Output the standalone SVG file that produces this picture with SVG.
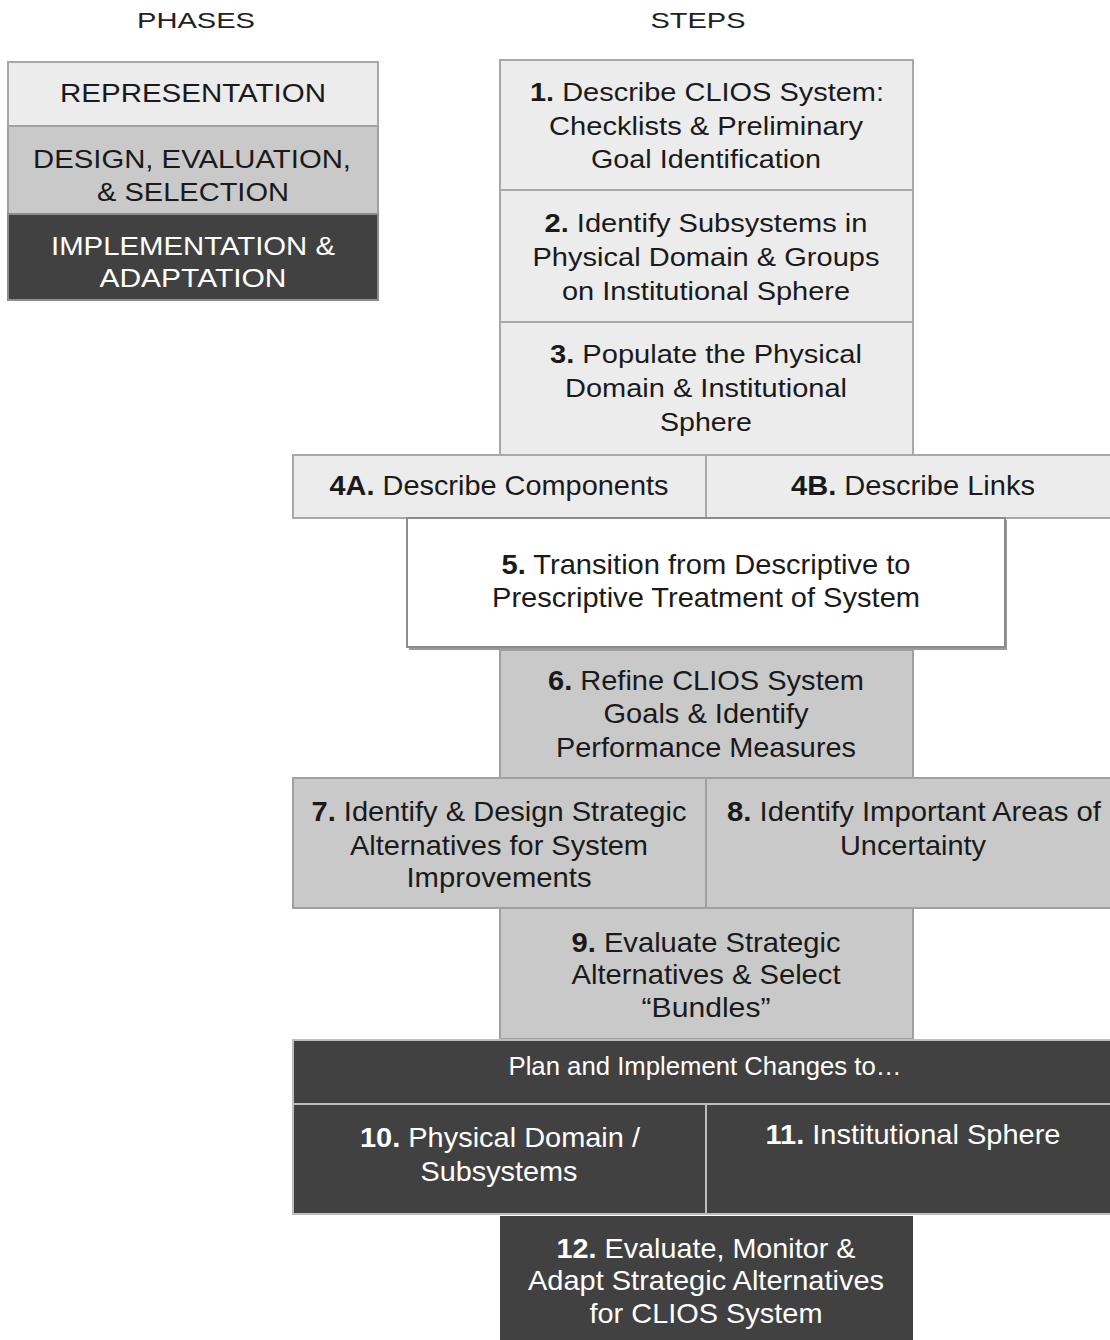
<svg xmlns="http://www.w3.org/2000/svg" width="1110" height="1340" viewBox="0 0 1110 1340">
  <style>
    text { font-family: "Liberation Sans", Arial, sans-serif; text-anchor: middle; }
    .hd { font-size: 22px; fill: #222; }
    .t { font-size: 25px; fill: #1a1a1a; }
    .tw { font-size: 25px; fill: #ffffff; }
    .c { font-size: 28px; }
    .n { font-weight: bold; }
    .light { fill: #ececec; stroke: #a8a8a8; stroke-width: 2; }
    .mid { fill: #c9c9c9; stroke: #a0a0a0; stroke-width: 2; }
    .dark { fill: #414141; stroke: #bdbdbd; stroke-width: 2; }
    .white { fill: #ffffff; stroke: #8c8c8c; stroke-width: 2; }
  </style>

  <!-- column headings -->
  <text class="hd" x="196" y="28" textLength="118" lengthAdjust="spacingAndGlyphs">PHASES</text>
  <text class="hd" x="698" y="28" textLength="95" lengthAdjust="spacingAndGlyphs">STEPS</text>

  <!-- phase legend -->
  <g id="phase-representation">
    <rect class="light" x="8" y="62" width="370" height="64"/>
    <text class="t" x="193" y="102" textLength="266" lengthAdjust="spacingAndGlyphs">REPRESENTATION</text>
  </g>
  <g id="phase-design">
    <rect class="mid" x="8" y="126" width="370" height="88"/>
    <text class="t" x="192" y="168" textLength="318" lengthAdjust="spacingAndGlyphs">DESIGN, EVALUATION,</text>
    <text class="t" x="193" y="201" textLength="192" lengthAdjust="spacingAndGlyphs">&amp; SELECTION</text>
  </g>
  <g id="phase-implementation">
    <rect class="dark" x="8" y="214" width="370" height="86" style="stroke:#8c8c8c"/>
    <text class="tw" x="193" y="255" textLength="284" lengthAdjust="spacingAndGlyphs">IMPLEMENTATION &amp;</text>
    <text class="tw" x="193" y="287" textLength="187" lengthAdjust="spacingAndGlyphs">ADAPTATION</text>
  </g>

  <!-- steps: representation -->
  <g id="step-1">
    <rect class="light" x="500" y="60" width="413" height="130"/>
    <text class="t" x="707" y="101" textLength="354" lengthAdjust="spacingAndGlyphs"><tspan class="n">1.</tspan> Describe CLIOS System:</text>
    <text class="t" x="706" y="135" textLength="314" lengthAdjust="spacingAndGlyphs">Checklists &amp; Preliminary</text>
    <text class="t" x="706" y="168" textLength="230" lengthAdjust="spacingAndGlyphs">Goal Identification</text>
  </g>
  <g id="step-2">
    <rect class="light" x="500" y="190" width="413" height="132"/>
    <text class="t" x="706" y="232" textLength="323" lengthAdjust="spacingAndGlyphs"><tspan class="n">2.</tspan> Identify Subsystems in</text>
    <text class="t" x="706" y="266" textLength="347" lengthAdjust="spacingAndGlyphs">Physical Domain &amp; Groups</text>
    <text class="t" x="706" y="300" textLength="288" lengthAdjust="spacingAndGlyphs">on Institutional Sphere</text>
  </g>
  <g id="step-3">
    <rect class="light" x="500" y="322" width="413" height="133"/>
    <text class="t" x="706" y="363" textLength="312" lengthAdjust="spacingAndGlyphs"><tspan class="n">3.</tspan> Populate the Physical</text>
    <text class="t" x="706" y="397" textLength="282" lengthAdjust="spacingAndGlyphs">Domain &amp; Institutional</text>
    <text class="t" x="706" y="431" textLength="92" lengthAdjust="spacingAndGlyphs">Sphere</text>
  </g>
  <g id="step-4a">
    <rect class="light" x="293" y="455" width="413" height="63"/>
    <text class="t c" x="499" y="495" textLength="339" lengthAdjust="spacingAndGlyphs"><tspan class="n">4A.</tspan> Describe Components</text>
  </g>
  <g id="step-4b">
    <rect class="light" x="706" y="455" width="410" height="63"/>
    <text class="t c" x="913" y="495" textLength="244" lengthAdjust="spacingAndGlyphs"><tspan class="n">4B.</tspan> Describe Links</text>
  </g>
  <g id="step-5">
    <rect x="409" y="520" width="598" height="130" fill="#9a9a9a"/>
    <rect class="white" x="407" y="518" width="598" height="129"/>
    <text class="t c" x="706" y="574" textLength="409" lengthAdjust="spacingAndGlyphs"><tspan class="n">5.</tspan> Transition from Descriptive to</text>
    <text class="t c" x="706" y="607" textLength="428" lengthAdjust="spacingAndGlyphs">Prescriptive Treatment of System</text>
  </g>

  <!-- steps: design, evaluation & selection -->
  <g id="step-6">
    <rect class="mid" x="500" y="650" width="413" height="128"/>
    <text class="t c" x="706" y="690" textLength="316" lengthAdjust="spacingAndGlyphs"><tspan class="n">6.</tspan> Refine CLIOS System</text>
    <text class="t c" x="706" y="723" textLength="205" lengthAdjust="spacingAndGlyphs">Goals &amp; Identify</text>
    <text class="t c" x="706" y="757" textLength="300" lengthAdjust="spacingAndGlyphs">Performance Measures</text>
  </g>
  <g id="step-7">
    <rect class="mid" x="293" y="778" width="413" height="130"/>
    <text class="t c" x="499" y="821" textLength="375" lengthAdjust="spacingAndGlyphs"><tspan class="n">7.</tspan> Identify &amp; Design Strategic</text>
    <text class="t c" x="499" y="855" textLength="298" lengthAdjust="spacingAndGlyphs">Alternatives for System</text>
    <text class="t c" x="499" y="887" textLength="185" lengthAdjust="spacingAndGlyphs">Improvements</text>
  </g>
  <g id="step-8">
    <rect class="mid" x="706" y="778" width="410" height="130"/>
    <text class="t c" x="914" y="821" textLength="374" lengthAdjust="spacingAndGlyphs"><tspan class="n">8.</tspan> Identify Important Areas of</text>
    <text class="t c" x="913" y="855" textLength="146" lengthAdjust="spacingAndGlyphs">Uncertainty</text>
  </g>
  <g id="step-9">
    <rect class="mid" x="500" y="908" width="413" height="131"/>
    <text class="t c" x="706" y="952" textLength="269" lengthAdjust="spacingAndGlyphs"><tspan class="n">9.</tspan> Evaluate Strategic</text>
    <text class="t c" x="706" y="984" textLength="269" lengthAdjust="spacingAndGlyphs">Alternatives &amp; Select</text>
    <text class="t c" x="706" y="1017" textLength="129" lengthAdjust="spacingAndGlyphs">“Bundles”</text>
  </g>

  <!-- steps: implementation & adaptation -->
  <g id="plan-implement">
    <rect class="dark" x="293" y="1040" width="823" height="64"/>
    <text class="tw" x="705" y="1075" style="font-size:26px" textLength="393" lengthAdjust="spacingAndGlyphs">Plan and Implement Changes to…</text>
  </g>
  <g id="step-10">
    <rect class="dark" x="293" y="1104" width="413" height="110"/>
    <text class="tw c" x="500" y="1147" textLength="280" lengthAdjust="spacingAndGlyphs"><tspan class="n">10.</tspan> Physical Domain /</text>
    <text class="tw c" x="499" y="1181" textLength="157" lengthAdjust="spacingAndGlyphs">Subsystems</text>
  </g>
  <g id="step-11">
    <rect class="dark" x="706" y="1104" width="410" height="110"/>
    <text class="tw c" x="913" y="1144" textLength="295" lengthAdjust="spacingAndGlyphs"><tspan class="n">11.</tspan> Institutional Sphere</text>
  </g>
  <g id="step-12">
    <rect class="dark" x="500" y="1216" width="413" height="130" style="stroke:none"/>
    <text class="tw c" x="706" y="1258" textLength="299" lengthAdjust="spacingAndGlyphs"><tspan class="n">12.</tspan> Evaluate, Monitor &amp;</text>
    <text class="tw c" x="706" y="1290" textLength="356" lengthAdjust="spacingAndGlyphs">Adapt Strategic Alternatives</text>
    <text class="tw c" x="706" y="1323" textLength="233" lengthAdjust="spacingAndGlyphs">for CLIOS System</text>
  </g>

  <g id="connectors"></g>
</svg>
